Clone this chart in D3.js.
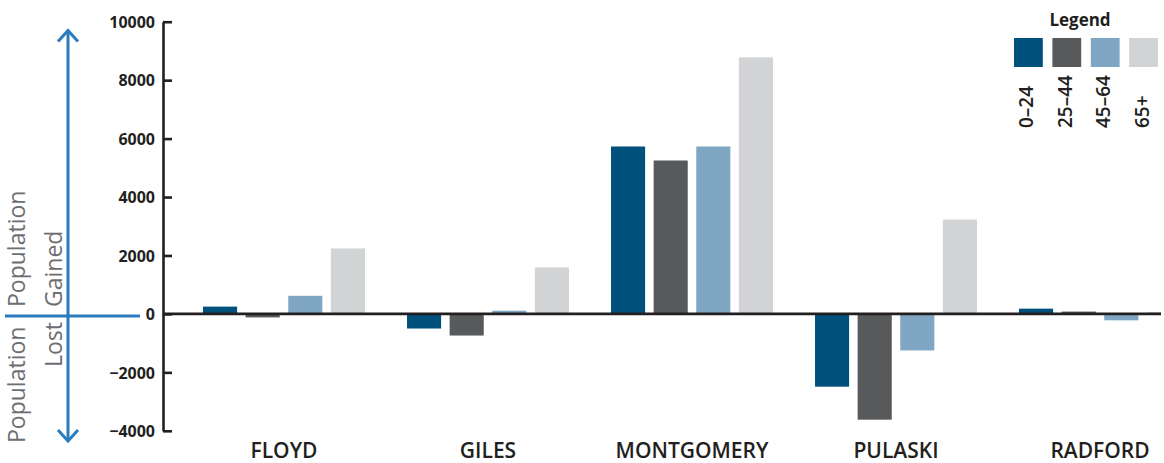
<!DOCTYPE html>
<html>
<head>
<meta charset="utf-8">
<script src="https://cdn.jsdelivr.net/npm/d3@7"></script>
<style>
  html, body { margin: 0; padding: 0; background: #ffffff; }
  svg { display: block; font-family: "Open Sans", "Noto Sans", sans-serif; }
</style>
</head>
<body>
<svg id="chart" width="1164" height="463"></svg>
<script>
const counties = ["FLOYD", "GILES", "MONTGOMERY", "PULASKI", "RADFORD"];
const ageGroups = ["0\u201324", "25\u201344", "45\u201364", "65+"];
const age0_24  = [250, -500, 5730, -2490, 180];
const age25_44 = [-120, -740, 5250, -3620, 80];
const age45_64 = [620, 110, 5730, -1250, -220];
const age65p   = [2240, 1590, 8780, 3230, 60];
const yTicks = [-4000, -2000, 0, 2000, 4000, 6000, 8000, 10000];
const colors = ["#00527c", "#58595b", "#7fa7c4", "#d1d3d4"];

const seriesValues = [age0_24, age25_44, age45_64, age65p];
const rows = counties.map((c, i) => ({
  county: c,
  values: ageGroups.map((g, j) => ({ group: g, idx: j, value: seriesValues[j][i] }))
}));

const svg = d3.select("#chart");
const ink = "#231f20";

const y = d3.scaleLinear().domain([-4000, 10000]).range([430.8, 21.7]);
const x0 = d3.scaleBand().domain(counties).range([182, 1202])
  .paddingInner(0.206).paddingOuter(0.103);
const x1 = d3.scaleBand().domain(ageGroups).range([0, x0.bandwidth()])
  .paddingInner(0.2).paddingOuter(0);
const color = d3.scaleOrdinal().domain(ageGroups).range(colors);

const axisX = 163;
const clipRight = 1161;

svg.append("defs").append("clipPath").attr("id", "plotclip")
  .append("rect").attr("x", axisX).attr("y", 0)
  .attr("width", clipRight - axisX).attr("height", 463);

// bars
const plot = svg.append("g").attr("clip-path", "url(#plotclip)");
plot.selectAll("g.county").data(rows).join("g")
  .attr("class", "county")
  .attr("transform", d => `translate(${x0(d.county)},0)`)
  .selectAll("rect").data(d => d.values).join("rect")
  .attr("x", d => x1(d.group))
  .attr("width", x1.bandwidth())
  .attr("y", d => y(Math.max(0, d.value)))
  .attr("height", d => Math.abs(y(d.value) - y(0)))
  .attr("fill", d => color(d.group));

// zero line
svg.append("line")
  .attr("x1", axisX).attr("x2", clipRight)
  .attr("y1", y(0)).attr("y2", y(0))
  .attr("stroke", ink).attr("stroke-width", 2.7);

// y axis
const yAxis = d3.axisRight(y).tickValues(yTicks).tickSize(9).tickSizeOuter(0)
  .tickFormat(d3.format("d"));
const gy = svg.append("g").attr("transform", `translate(${axisX},0)`).call(yAxis);
gy.select(".domain").attr("stroke", ink).attr("stroke-width", 2.6);
gy.selectAll(".tick line").attr("stroke", ink).attr("stroke-width", 2.6);
gy.selectAll(".tick text")
  .attr("x", -8).attr("dy", "0.36em")
  .attr("text-anchor", "end")
  .attr("fill", ink)
  .style("font-family", "'Open Sans', sans-serif")
  .style("font-size", "16px").style("font-weight", "700");

// category labels
svg.append("g").selectAll("text").data(counties).join("text")
  .attr("x", d => x0(d) + x0.bandwidth() / 2)
  .attr("y", 457.5)
  .attr("text-anchor", "middle")
  .attr("fill", ink)
  .style("font-size", "21px").style("font-weight", "600")
  .style("font-stretch", "90%")
  .text(d => d);

// legend
const lg = svg.append("g");
lg.append("text").attr("x", 1080).attr("y", 26).attr("text-anchor", "middle")
  .attr("fill", ink).style("font-size", "17px").style("font-weight", "700")
  .text("Legend");
const lx = d3.scaleBand().domain(ageGroups).range([1014, 1158]).paddingInner(0.25).paddingOuter(0);
lg.selectAll("rect").data(ageGroups).join("rect")
  .attr("x", d => lx(d)).attr("y", 38)
  .attr("width", lx.bandwidth()).attr("height", 29)
  .attr("fill", d => color(d));
lg.selectAll("text.lab").data(ageGroups).join("text")
  .attr("class", "lab")
  .attr("transform", d => `translate(${lx(d) + lx.bandwidth() / 2 + 5},128) rotate(-90)`)
  .attr("text-anchor", "start")
  .attr("fill", ink)
  .style("font-size", "19px").style("font-weight", "600")
  .text(d => d);

// blue gained/lost indicator
const blue = "#2b7bbf";
const ind = svg.append("g").attr("stroke", blue).attr("stroke-width", 3).attr("fill", "none")
  .attr("stroke-linecap", "butt");
ind.append("line").attr("x1", 68).attr("x2", 68).attr("y1", 30).attr("y2", 441);
ind.append("polyline").attr("points", "58,41.5 68,30.5 78,41.5");
ind.append("polyline").attr("points", "58,430 68,441 78,430");
ind.append("line").attr("x1", 5).attr("x2", 140).attr("y1", 316).attr("y2", 316);

const grey = "#6d6e71";
const side = svg.append("g").attr("fill", grey)
  .style("font-size", "23px").style("font-weight", "400");
side.append("text").attr("transform", "translate(25,307) rotate(-90)")
  .attr("text-anchor", "start").text("Population");
side.append("text").attr("transform", "translate(62,307) rotate(-90)")
  .attr("text-anchor", "start").text("Gained");
side.append("text").attr("transform", "translate(25,443) rotate(-90)")
  .attr("text-anchor", "start").text("Population");
side.append("text").attr("transform", "translate(62,367) rotate(-90)")
  .attr("text-anchor", "start").text("Lost");
</script>
</body>
</html>
